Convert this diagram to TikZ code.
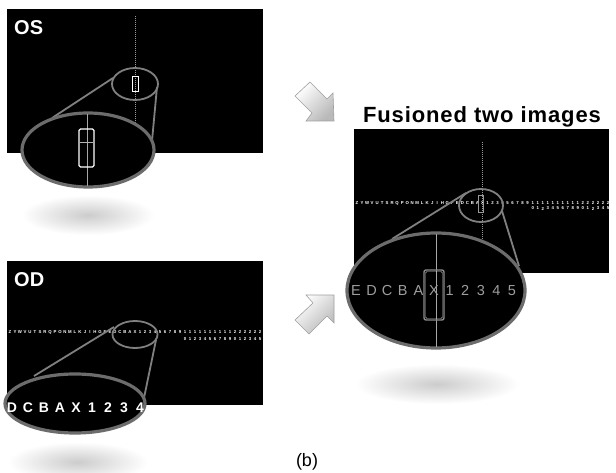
\documentclass[tikz,border=0pt]{standalone}
\usepackage{fontspec}
\setmainfont{Liberation Sans}
\setsansfont{Liberation Sans}
\begin{document}
\begin{tikzpicture}[x=1pt,y=-1pt,
  panel/.style={fill=black},
  rowtxt/.style={text=white,font=\fontsize{4.3}{4.3}\selectfont\bfseries,inner sep=0pt},
  lbl/.style={text=white,font=\fontsize{20}{20}\selectfont\bfseries,inner sep=0pt,anchor=base west},
  zoomline/.style={draw=gray,line width=1.8pt},
  smallell/.style={draw=gray,line width=1.8pt},
  bigell/.style={fill=black,draw=gray!85!black,line width=3.2pt},
  dotline/.style={draw=gray!80,line width=0.5pt,dash pattern=on 1pt off 1pt},
  thinline/.style={draw=gray!70,line width=0.6pt},
  bigtxt/.style={text=white,font=\fontsize{14}{14}\selectfont\bfseries,inner sep=0pt,anchor=base},
  fustxt/.style={text=black!38,font=\fontsize{14.5}{14.5}\selectfont,inner sep=0pt,anchor=base},
  blockarrow/.style={top color=white,bottom color=gray!55,shading angle=45,draw=gray!75,line width=0.6pt},
  shadow/.style={inner color=black!20,outer color=white}
]
\useasboundingbox (0,0) rectangle (616,473);
\fill[white] (0,0) rectangle (616,473);

\def\toprow{Z,Y,W,V,U,T,S,R,Q,P,O,N,M,L,K,J,I,H,G,F,E,D,C,B,A,X,1,2,3,4,5,6,7,8,9,1,1,1,1,1,1,1,1,1,1,2,2,2,2,2,2}
\def\botrow{0,1,2,3,4,5,6,7,8,9,0,1,2,3,4,5}

% ---------- shadows ----------
\shade[shadow] (88,215) ellipse [x radius=66pt, y radius=20pt];
\shade[shadow] (78,462) ellipse [x radius=70pt, y radius=20pt];
\shade[shadow] (437,384) ellipse [x radius=82pt, y radius=20pt];

% ---------- OS panel ----------
\fill[panel] (7,9) rectangle (263,153);
\node[lbl] (os) at (14,35) {OS};
\draw[dotline] (135,16) -- (135,153);
\draw[smallell] (135,84) ellipse [x radius=23pt, y radius=16pt];
\draw[white,line width=0.9pt] (132,76) rectangle (138,91);
\coordinate (osA) at (52,118);
\coordinate (osB) at (113,78);
\coordinate (osC) at (152,141);
\coordinate (osD) at (157,87);
\draw[zoomline] (osA) -- (osB);
\draw[zoomline] (osC) -- (osD);
\draw[bigell] (88,150) ellipse [x radius=66pt, y radius=37pt];
\draw[thinline] (87,114) -- (87,186);
\draw[white,line width=1.3pt,rounded corners=1.5pt] (79,129) rectangle (94,167);
\draw[gray!60,line width=0.4pt] (80,142) -- (93,142);

% ---------- OD panel ----------
\fill[panel] (7,261) rectangle (263,405);
\node[lbl] (od) at (14,287) {OD};
\foreach \c [count=\i from 0] in \toprow {
  \node[rowtxt] (odt\i) at (10+5*\i,332) {\c};
}
\foreach \c [count=\i from 0] in \botrow {
  \node[rowtxt] (odb\i) at (185+5*\i,339) {\c};
}
\draw[smallell] (135,334.5) ellipse [x radius=22.5pt, y radius=13.5pt];
\coordinate (odA) at (34,376);
\coordinate (odB) at (114,327);
\coordinate (odC) at (144,398);
\coordinate (odD) at (156,340);
\draw[zoomline] (odA) -- (odB);
\draw[zoomline] (odC) -- (odD);
\draw[bigell] (75,403.5) ellipse [x radius=70pt, y radius=29.5pt];
\foreach \c [count=\i from 0] in {D,C,B,A,X,1,2,3,4} {
  \node[bigtxt] (odz\i) at (12+16*\i,412) {\c};
}

% ---------- arrows ----------
\shadedraw[blockarrow] (334,121) -- (333,93) -- (327,99) -- (310,82) -- (295,96) -- (312,113) -- (306,121) -- cycle;
\shadedraw[blockarrow] (334,295) -- (306,295) -- (313,303) -- (295,320) -- (309,334) -- (327,316) -- (334,323) -- cycle;

% ---------- fused panel ----------
\node[font=\fontsize{22}{22}\selectfont\bfseries\addfontfeature{LetterSpace=4},inner sep=0pt,anchor=base] (title) at (482,123) {Fusioned two images};
\fill[panel] (354,129) rectangle (609,273);
\draw[dotline] (482,142) -- (482,273);
\foreach \c [count=\i from 0] in \toprow {
  \node[rowtxt] (fut\i) at (357+5.02*\i,203) {\c};
}
\foreach \c [count=\i from 0] in \botrow {
  \node[rowtxt] (fub\i) at (532.7+5.02*\i,208.5) {\c};
}
\draw[smallell] (481,205.5) ellipse [x radius=22pt, y radius=16.5pt];
\draw[gray!80!white,line width=0.9pt] (478.5,195) rectangle (483.5,212);
\coordinate (fuA) at (392,239);
\coordinate (fuB) at (466,193);
\coordinate (fuC) at (519,266);
\coordinate (fuD) at (502,211);
\draw[zoomline] (fuA) -- (fuB);
\draw[zoomline] (fuC) -- (fuD);
\draw[bigell] (436,290.5) ellipse [x radius=89pt, y radius=57.5pt];
\draw[thinline] (436,234) -- (436,347);
\foreach \c [count=\i from 0] in {E,D,C,B,A,X,1,2,3,4,5} {
  \node[fustxt] (fuz\i) at (356+15.6*\i,295) {\c};
}
\draw[black!45,line width=1.4pt,rounded corners=2pt] (424,270) rectangle (444,320);
\draw[black!25,line width=0.4pt,rounded corners=1.5pt] (425.5,271.5) rectangle (442.5,318.5);

% ---------- caption ----------
\node[font=\fontsize{18}{18}\selectfont,inner sep=0pt,anchor=base] (cap) at (307,466) {(b)};
\end{tikzpicture}
\end{document}
